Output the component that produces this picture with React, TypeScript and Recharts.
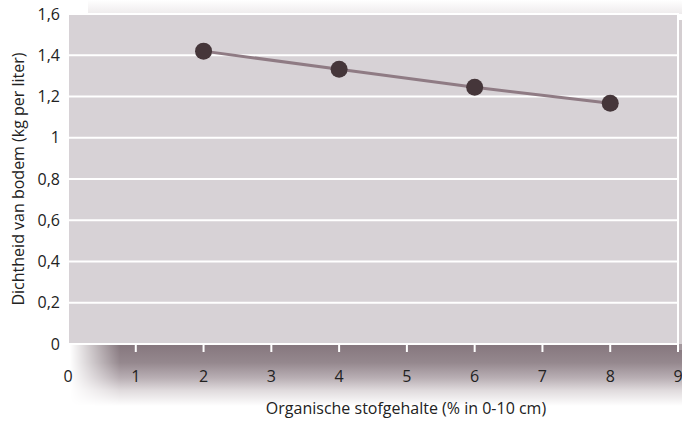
import React from 'react';
import { LineChart, Line, XAxis, YAxis, CartesianGrid, ReferenceArea } from 'recharts';

// organic matter (%) vs soil density (kg per liter)
const organicMatter = [2, 4, 6, 8];
const density = [1.42, 1.332, 1.245, 1.167];
const xTicks = [0, 1, 2, 3, 4, 5, 6, 7, 8, 9];
const yTicks = [0, 0.2, 0.4, 0.6, 0.8, 1, 1.2, 1.4, 1.6];

const data = organicMatter.map((x, i) => ({ x, y: density[i] }));

const font = '"Open Sans", sans-serif';
const fmt = (v: number) => String(v).replace('.', ',');

// plot background, white border, faint edge shading
const PlotBackground = (props: any) => {
  const { x, y, width, height } = props;
  return (
    <g>
      <defs>
        <linearGradient id="shadowTop" x1="0" y1="0" x2="0" y2="1">
          <stop offset="0" stopColor="#ffffff" />
          <stop offset="1" stopColor="#eeebec" />
        </linearGradient>
      </defs>
      <rect x={x + 20} y={y - 14} width={width} height={14} fill="url(#shadowTop)" />
      <rect x={x + width} y={y + 6} width={8} height={height} fill="#b8adb2" opacity={0.6} />
      <rect x={x} y={y} width={width} height={height} fill="#d7d2d6" stroke="#ffffff" strokeWidth={2} />
    </g>
  );
};

// soft shadow below the plot, drawn behind the transparent chart svg
const shadowStyle: React.CSSProperties = {
  position: 'absolute',
  left: 70,
  top: 344,
  width: 612,
  height: 62,
  background: 'linear-gradient(to bottom, #85767d 0%, #95888e 30%, #b9afb4 55%, #e0dbdd 75%, #ffffff 100%)',
  WebkitMaskImage: 'linear-gradient(to right, transparent 0px, black 50px)',
  maskImage: 'linear-gradient(to right, transparent 0px, black 50px)',
};

export default function App() {
  return (
    <div style={{ position: 'absolute', left: 0, top: 0, width: 682, height: 421, background: '#fff', fontFamily: font }}>
      <div style={shadowStyle} />
      <LineChart width={682} height={421} data={data} margin={{ top: 14, right: 4, left: 20, bottom: 27 }}>
        <ReferenceArea x1={0} x2={9} y1={0} y2={1.6} shape={PlotBackground} ifOverflow="visible" zIndex={-200} />
        <CartesianGrid vertical={false} stroke="#ffffff" strokeWidth={2} strokeDasharray="" />
        <XAxis
          type="number"
          dataKey="x"
          domain={[0, 9]}
          ticks={xTicks}
          interval={0}
          axisLine={false}
          tickLine={{ stroke: '#ffffff', strokeWidth: 2 }}
          tickSize={8}
          tickMargin={19}
          height={50}
          tick={{ fill: '#222', fontSize: 16, fontFamily: font }}
          label={{ value: 'Organische stofgehalte (% in 0-10 cm)', position: 'bottom', offset: 9, dx: 33, fill: '#222', fontSize: 16, fontFamily: font }}
        />
        <YAxis
          type="number"
          domain={[0, 1.6]}
          ticks={yTicks}
          interval={0}
          width={48}
          axisLine={false}
          tickLine={false}
          tickSize={0}
          tickMargin={8}
          tickFormatter={fmt}
          tick={{ fill: '#222', fontSize: 16, fontFamily: font }}
          label={{ value: 'Dichtheid van bodem (kg per liter)', angle: -90, position: 'center', dx: -26, fill: '#222', fontSize: 16, fontFamily: font }}
        />
        <Line
          type="linear"
          dataKey="y"
          stroke="#8f7b84"
          strokeWidth={3}
          dot={{ r: 8.5, fill: '#45363a', stroke: 'none' }}
          isAnimationActive={false}
        />
      </LineChart>
    </div>
  );
}
